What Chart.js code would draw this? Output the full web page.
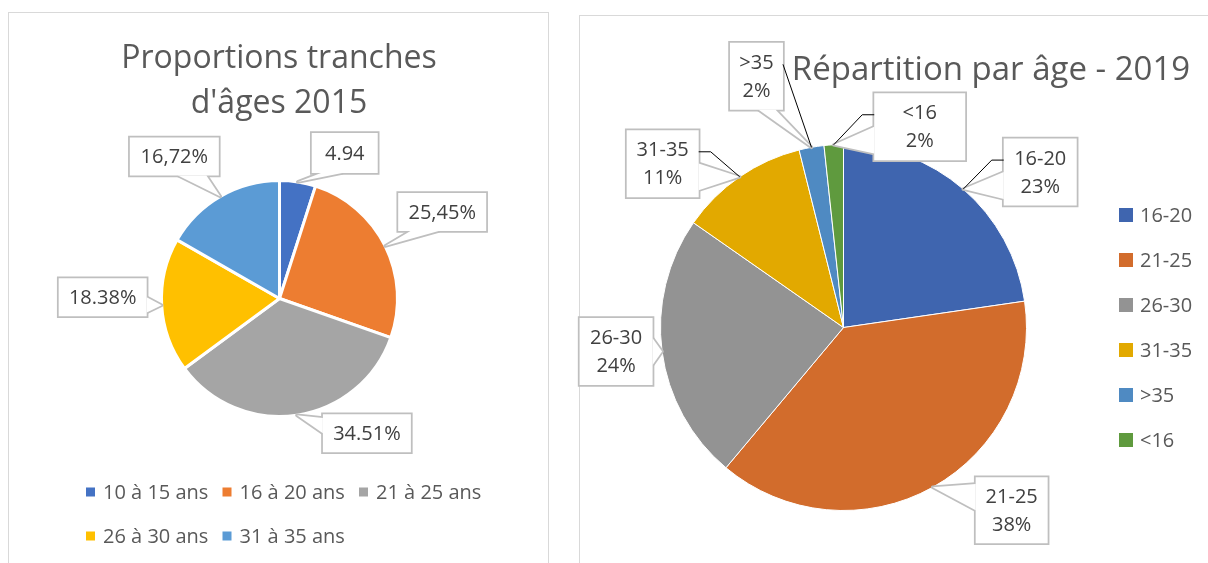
<!DOCTYPE html>
<html lang="fr">
<head>
<meta charset="utf-8">
<title>Tranches d'âges 2015 / 2019</title>
<script src="https://cdn.jsdelivr.net/npm/chart.js@4.4.1/dist/chart.umd.min.js"></script>
<style>
  html, body { margin: 0; padding: 0; background: #fff; }
  body { width: 1208px; height: 563px; position: relative; overflow: hidden; }
  .panel { position: absolute; border: 1px solid #d9d9d9; box-sizing: border-box; }
  canvas { position: absolute; left: 0; top: 0; }
</style>
</head>
<body>
<div class="panel" style="left:8px;top:12px;width:541px;height:580px"></div>
<div class="panel" style="left:579px;top:15px;width:660px;height:580px"></div>
<canvas id="chart2015" width="1208" height="563"></canvas>
<canvas id="chart2019" width="1208" height="563"></canvas>
<script>
// ── data ──
const labels2015 = ['10 à 15 ans', '16 à 20 ans', '21 à 25 ans', '26 à 30 ans', '31 à 35 ans'];
const values2015 = [4.94, 25.45, 34.51, 18.38, 16.72];
const valueText2015 = ['4.94', '25,45%', '34.51%', '18.38%', '16,72%'];
const colors2015 = ['#4472c4', '#ed7d31', '#a5a5a5', '#ffc000', '#5b9bd5'];

const labels2019 = ['16-20', '21-25', '26-30', '31-35', '>35', '<16'];
const values2019 = [22.7, 38.4, 23.6, 11.4, 2.2, 1.7];
const colors2019 = ['#3f65af', '#d26c2c', '#939393', '#e2a900', '#4f8ac2', '#5f9a3e'];

// callout placement (box centre offset from the slice edge point, box size)
const callouts2015 = [
  { dx: 47, dy: -29, w: 66, h: 40 },
  { dx: 57, dy: -34, w: 88, h: 38 },
  { dx: 70, dy: 18, w: 88, h: 38 },
  { dx: -59, dy: -8, w: 88, h: 38 },
  { dx: -46, dy: -40, w: 89, h: 38 }
];
const callouts2019 = [
  { dx: 77, dy: -17, w: 73, h: 67, leader: 12 },
  { dx: 79, dy: 23, w: 72, h: 66 },
  { dx: -46, dy: 0, w: 73, h: 67 },
  { dx: -77, dy: -13, w: 72, h: 67, leader: 12 },
  { dx: -55, dy: -71, w: 53, h: 67, leader: 0.01 },
  { dx: 86, dy: -18, w: 91, h: 67, leader: 12 }
];

const FONT = "'Open Sans', 'Noto Sans', sans-serif";
const TEXT = '#595959';

function clamp(v, a, b) { return Math.min(Math.max(v, a), b); }

function wedgeBase(b, tx, ty) {
  const cx = b.x + b.w / 2, cy = b.y + b.h / 2;
  const nx = (tx - cx) / (b.w / 2), ny = (ty - cy) / (b.h / 2);
  if (Math.abs(nx) >= Math.abs(ny)) {
    const x = nx < 0 ? b.x : b.x + b.w;
    const m = clamp(ty, b.y + b.h * 0.3, b.y + b.h * 0.7);
    const half = b.h * 0.2;
    return [[x, m - half], [x, m + half]];
  }
  const y = ny < 0 ? b.y : b.y + b.h;
  const m = clamp(tx, b.x + b.w * 0.3, b.x + b.w * 0.7);
  const half = b.w * 0.16;
  return [[m - half, y], [m + half, y]];
}

function drawCallout(ctx, b, tip, lines) {
  const base = wedgeBase(b, tip[0], tip[1]);
  const tri = () => {
    ctx.beginPath();
    ctx.moveTo(base[0][0], base[0][1]);
    ctx.lineTo(tip[0], tip[1]);
    ctx.lineTo(base[1][0], base[1][1]);
    ctx.closePath();
  };
  const rect = () => { ctx.beginPath(); ctx.rect(b.x, b.y, b.w, b.h); };
  ctx.save();
  ctx.strokeStyle = '#bfbfbf';
  ctx.lineWidth = 3.5;
  ctx.lineJoin = 'round';
  tri(); ctx.stroke();
  ctx.lineJoin = 'miter';
  rect(); ctx.stroke();
  ctx.fillStyle = '#fff';
  tri(); ctx.fill();
  rect(); ctx.fill();
  ctx.fillStyle = '#404040';
  ctx.font = '20px ' + FONT;
  ctx.textAlign = 'center';
  ctx.textBaseline = 'middle';
  const step = 28;
  const y0 = b.y + b.h / 2 - (lines.length - 1) * step / 2;
  lines.forEach((t, i) => ctx.fillText(t, b.x + b.w / 2, y0 + i * step + 1));
  ctx.restore();
}

const calloutPlugin = {
  id: 'callouts',
  afterDatasetsDraw(chart, args, opts) {
    const ctx = chart.ctx;
    const arcs = chart.getDatasetMeta(0).data;
    const leaders = [];
    arcs.forEach((arc, i) => {
      const mid = (arc.startAngle + arc.endAngle) / 2;
      const px = arc.x + Math.cos(mid) * arc.outerRadius;
      const py = arc.y + Math.sin(mid) * arc.outerRadius;
      const c = opts.layout[i];
      const b = { x: px + c.dx - c.w / 2, y: py + c.dy - c.h / 2, w: c.w, h: c.h };
      drawCallout(ctx, b, [px, py], opts.text(i));
      if (c.leader) leaders.push({ b, px, py, c });
    });
    // black leader lines (Excel draws them over the callouts)
    ctx.save();
    ctx.strokeStyle = '#000';
    ctx.lineWidth = 1;
    leaders.forEach(({ b, px, py, c }) => {
      const sx = c.dx < 0 ? b.x + b.w : b.x;
      const sy = b.y + b.h / 2 - 12;
      const stub = c.dx < 0 ? c.leader : -c.leader;
      ctx.beginPath();
      ctx.moveTo(sx, sy);
      ctx.lineTo(sx + stub, sy);
      ctx.lineTo(px, py);
      ctx.stroke();
    });
    ctx.restore();
  }
};

const decorPlugin = {
  id: 'decor',
  afterDraw(chart, args, opts) {
    const ctx = chart.ctx;
    ctx.save();
    ctx.fillStyle = TEXT;
    ctx.textAlign = 'center';
    ctx.textBaseline = 'alphabetic';
    ctx.font = opts.titleSize + 'px ' + FONT;
    opts.title.forEach((t, i) => ctx.fillText(t, opts.titleX, opts.titleY + i * 45));
    ctx.font = '20px ' + FONT;
    ctx.textAlign = 'left';
    ctx.textBaseline = 'middle';
    const labels = chart.data.labels;
    const colors = chart.data.datasets[0].backgroundColor;
    labels.forEach((l, i) => {
      const [x, y] = opts.itemPos(i);
      ctx.fillStyle = colors[i];
      ctx.fillRect(x, y - opts.box / 2, opts.box, opts.box);
      ctx.fillStyle = TEXT;
      ctx.fillText(l, x + opts.textGap, y + 1);
    });
    ctx.restore();
  }
};

const sum2019 = values2019.reduce((a, b) => a + b, 0);

new Chart(document.getElementById('chart2015'), {
  type: 'pie',
  data: {
    labels: labels2015,
    datasets: [{ data: values2015, backgroundColor: colors2015, borderColor: '#fff', borderWidth: 3 }]
  },
  options: {
    responsive: false,
    animation: false,
    layout: { padding: { left: 160, top: 179, right: 809, bottom: 145 } },
    plugins: {
      legend: { display: false },
      tooltip: { enabled: false },
      callouts: { layout: callouts2015, text: i => [valueText2015[i]] },
      decor: {
        title: ['Proportions tranches', "d'âges 2015"], titleX: 279, titleY: 68, titleSize: 32,
        box: 9, textGap: 17,
        itemPos: i => [86 + (i % 3) * 136.5, 492 + Math.floor(i / 3) * 44]
      }
    }
  },
  plugins: [calloutPlugin, decorPlugin]
});

new Chart(document.getElementById('chart2019'), {
  type: 'pie',
  data: {
    labels: labels2019,
    datasets: [{ data: values2019, backgroundColor: colors2019, borderColor: '#fff', borderWidth: 1 }]
  },
  options: {
    responsive: false,
    animation: false,
    layout: { padding: { left: 660, top: 144, right: 181, bottom: 52 } },
    plugins: {
      legend: { display: false },
      tooltip: { enabled: false },
      callouts: {
        layout: callouts2019,
        text: i => [labels2019[i], Math.round(values2019[i] / sum2019 * 100) + '%']
      },
      decor: {
        title: ['Répartition par âge - 2019'], titleX: 991, titleY: 80, titleSize: 33,
        box: 14, textGap: 21,
        itemPos: i => [1119, 215 + i * 45]
      }
    }
  },
  plugins: [calloutPlugin, decorPlugin]
});
</script>
</body>
</html>
